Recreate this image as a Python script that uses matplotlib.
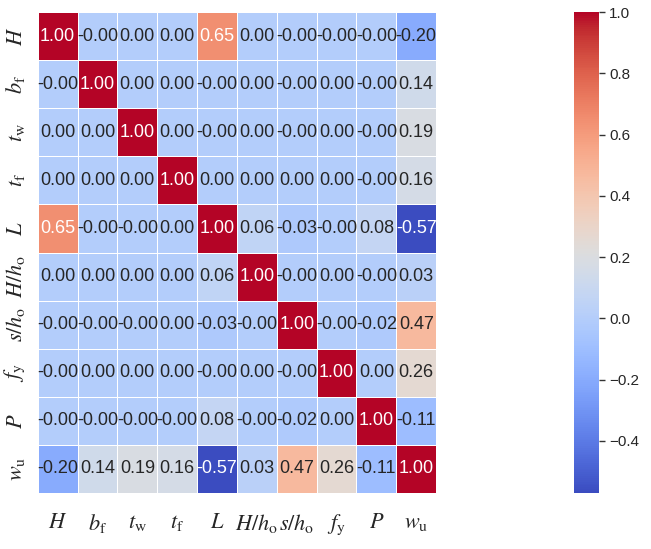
import numpy as np
import matplotlib
matplotlib.use("Agg")
import matplotlib.pyplot as plt
import seaborn as sns

# Correlation matrix of the input parameters and the output w_u
labels = [r'$H$', r'$b_\mathrm{f}$', r'$t_\mathrm{w}$', r'$t_\mathrm{f}$', r'$L$',
          r'$H/h_\mathrm{o}$', r'$s/h_\mathrm{o}$', r'$f_\mathrm{y}$', r'$P$', r'$w_\mathrm{u}$']

# -0.001 stands for values that round to -0.00
corr = np.array([
    [1.00, -0.001, 0.00, 0.00, 0.65, 0.00, -0.001, -0.001, -0.001, -0.20],
    [-0.001, 1.00, 0.00, 0.00, -0.001, 0.00, -0.001, 0.00, -0.001, 0.14],
    [0.00, 0.00, 1.00, 0.00, -0.001, 0.00, -0.001, 0.00, -0.001, 0.19],
    [0.00, 0.00, 0.00, 1.00, 0.00, 0.00, 0.00, 0.00, -0.001, 0.16],
    [0.65, -0.001, -0.001, 0.00, 1.00, 0.06, -0.03, -0.001, 0.08, -0.57],
    [0.00, 0.00, 0.00, 0.00, 0.06, 1.00, -0.001, 0.00, -0.001, 0.03],
    [-0.001, -0.001, -0.001, 0.00, -0.03, -0.001, 1.00, -0.001, -0.02, 0.47],
    [-0.001, 0.00, 0.00, 0.00, -0.001, 0.00, -0.001, 1.00, 0.00, 0.26],
    [-0.001, -0.001, -0.001, -0.001, 0.08, -0.001, -0.02, 0.00, 1.00, -0.11],
    [-0.20, 0.14, 0.19, 0.16, -0.57, 0.03, 0.47, 0.26, -0.11, 1.00],
])

sns.set_theme(style="white")
plt.rcParams['font.family'] = ['Liberation Sans', 'DejaVu Sans']
plt.rcParams['mathtext.fontset'] = 'stix'

fig = plt.figure(figsize=(6.51, 5.49), dpi=100)
ax = fig.add_axes([0.058, 0.102, 0.612, 0.876])
cax = fig.add_axes([0.882, 0.102, 0.038, 0.876])

sns.heatmap(corr, ax=ax, cbar_ax=cax, cmap='coolwarm', annot=True, fmt='.2f',
            annot_kws={'fontsize': 13}, linewidths=0.6, linecolor='white',
            xticklabels=labels, yticklabels=labels)
ax.set_aspect('auto')
ax.set_position([0.058, 0.102, 0.612, 0.876])

ax.tick_params(axis='both', length=0, labelsize=16, pad=8)
ax.tick_params(axis='x', pad=14)
plt.setp(ax.get_yticklabels(), rotation=90, va='center')
plt.setp(ax.get_xticklabels(), rotation=0)

cax.tick_params(labelsize=11, length=4, width=1, color='#333333', direction='out', right=True)
cax.set_yticks([-0.4, -0.2, 0.0, 0.2, 0.4, 0.6, 0.8, 1.0])

fig.savefig('out.png', dpi=100)
